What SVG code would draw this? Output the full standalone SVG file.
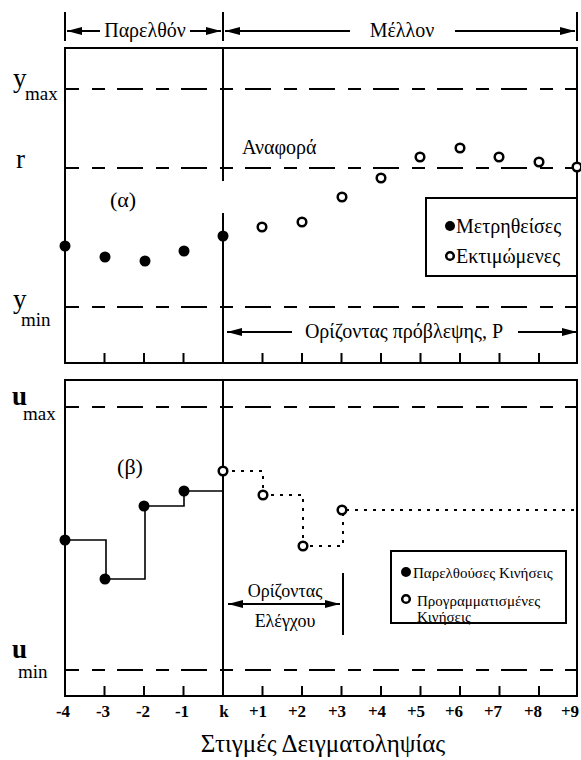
<svg xmlns="http://www.w3.org/2000/svg" width="581" height="760" viewBox="0 0 581 760" font-family="'Liberation Serif', 'Times New Roman', serif">
  <style>
    text { font-family: "Liberation Serif", "Times New Roman", serif; fill: #000; }
    .frame { fill: none; stroke: #000; stroke-width: 2; }
    .axis { fill: none; stroke: #000; stroke-width: 2; }
    .tick { stroke: #000; stroke-width: 2; }
    .limit { fill: none; stroke: #000; stroke-width: 2; stroke-dasharray: 13 12 26 13; stroke-dashoffset: 37; }
    .guide { fill: none; stroke: #000; stroke-width: 2; marker-end: url(#head); }
    .past { fill: #000; }
    .plan { fill: #fff; stroke: #000; stroke-width: 2.5; }
    .step { fill: none; stroke: #000; stroke-width: 1.6; }
    .planned { fill: none; stroke: #000; stroke-width: 2; stroke-dasharray: 3 6; }
    .lbl { font-size: 20px; }
    .num { font-size: 17px; font-weight: bold; text-anchor: middle; }
    .big { font-size: 27px; }
    .sub { font-size: 19px; }
  </style>
  <defs>
    <marker id="head" viewBox="0 0 15 8" refX="15" refY="4" markerWidth="15" markerHeight="8" markerUnits="userSpaceOnUse" orient="auto">
      <path d="M0,0 L15,4 L0,8 Z" fill="#000"/>
    </marker>
  </defs>

  <!-- time span header: past / future -->
  <g id="header">
    <line class="tick" x1="65" y1="12" x2="65" y2="41"/>
    <line class="tick" x1="223" y1="12" x2="223" y2="41"/>
    <line class="tick" x1="577" y1="12" x2="577" y2="41"/>
    <line class="guide" x1="100" y1="31" x2="67" y2="31"/>
    <line class="guide" x1="190" y1="31" x2="221" y2="31"/>
    <text class="lbl" x="145" y="37" text-anchor="middle">Παρελθόν</text>
    <line class="guide" x1="350" y1="31" x2="225" y2="31"/>
    <line class="guide" x1="455" y1="31" x2="575" y2="31"/>
    <text class="lbl" x="402" y="37" text-anchor="middle">Μέλλον</text>
  </g>

  <!-- (α) outputs panel -->
  <g id="panel-outputs">
    <path class="frame" d="M65,363 V48 H577 V363 Z"/>
    <path class="axis" d="M223,48 V181 M223,213 V363"/>
    <g class="tick">
      <line x1="104.5" y1="353" x2="104.5" y2="363"/>
      <line x1="144" y1="353" x2="144" y2="363"/>
      <line x1="183.5" y1="353" x2="183.5" y2="363"/>
      <line x1="262.5" y1="353" x2="262.5" y2="363"/>
      <line x1="302" y1="353" x2="302" y2="363"/>
      <line x1="341.5" y1="353" x2="341.5" y2="363"/>
      <line x1="381" y1="353" x2="381" y2="363"/>
      <line x1="420.5" y1="353" x2="420.5" y2="363"/>
      <line x1="460" y1="353" x2="460" y2="363"/>
      <line x1="499.5" y1="353" x2="499.5" y2="363"/>
      <line x1="539" y1="353" x2="539" y2="363"/>
    </g>
    <line class="limit" x1="65" y1="89" x2="577" y2="89"/>
    <line class="limit" x1="65" y1="168" x2="577" y2="168"/>
    <line class="limit" x1="65" y1="307" x2="577" y2="307"/>
    <text class="big" x="13" y="87">y</text><text class="sub" x="25" y="100">max</text>
    <text class="big" x="16" y="168">r</text>
    <text class="big" x="13" y="308">y</text><text class="sub" x="21" y="326">min</text>
    <text class="lbl" x="242" y="154">Αναφορά</text>
    <text x="123" y="207" font-size="22" text-anchor="middle">(α)</text>
  </g>

  <g id="measured-outputs">
    <circle class="past" cx="65" cy="246" r="5.5"/>
    <circle class="past" cx="105" cy="257" r="5.5"/>
    <circle class="past" cx="145" cy="261" r="5.5"/>
    <circle class="past" cx="184" cy="251" r="5.5"/>
    <circle class="past" cx="223" cy="236" r="5.5"/>
  </g>

  <g id="predicted-outputs">
    <circle class="plan" cx="262" cy="227" r="4.3"/>
    <circle class="plan" cx="302" cy="222" r="4.3"/>
    <circle class="plan" cx="342" cy="197" r="4.3"/>
    <circle class="plan" cx="381" cy="178" r="4.3"/>
    <circle class="plan" cx="420" cy="157" r="4.3"/>
    <circle class="plan" cx="460" cy="148" r="4.3"/>
    <circle class="plan" cx="499" cy="157" r="4.3"/>
    <circle class="plan" cx="539" cy="162" r="4.3"/>
    <circle class="plan" cx="577" cy="167" r="4.3"/>
  </g>

  <g id="legend-outputs">
    <rect class="frame" x="426" y="198" width="151" height="78"/>
    <circle class="past" cx="450" cy="226" r="5"/>
    <text class="lbl" x="456" y="233">Μετρηθείσες</text>
    <circle class="plan" cx="450" cy="256" r="3.8" stroke-width="2"/>
    <text class="lbl" x="456" y="263">Εκτιμώμενες</text>
  </g>

  <g id="prediction-horizon">
    <line class="guide" x1="292" y1="332" x2="227" y2="332"/>
    <line class="guide" x1="518" y1="332" x2="577" y2="332"/>
    <text class="lbl" x="404" y="338" text-anchor="middle">Ορίζοντας πρόβλεψης, P</text>
  </g>

  <!-- (β) inputs panel -->
  <g id="panel-inputs">
    <path class="frame" d="M65,696 V380 H577 V696 Z"/>
    <line class="axis" x1="223" y1="380" x2="223" y2="696"/>
    <g class="tick">
      <line x1="104.5" y1="686" x2="104.5" y2="696"/>
      <line x1="144" y1="686" x2="144" y2="696"/>
      <line x1="183.5" y1="686" x2="183.5" y2="696"/>
      <line x1="262.5" y1="686" x2="262.5" y2="696"/>
      <line x1="302" y1="686" x2="302" y2="696"/>
      <line x1="341.5" y1="686" x2="341.5" y2="696"/>
      <line x1="381" y1="686" x2="381" y2="696"/>
      <line x1="420.5" y1="686" x2="420.5" y2="696"/>
      <line x1="460" y1="686" x2="460" y2="696"/>
      <line x1="499.5" y1="686" x2="499.5" y2="696"/>
      <line x1="539" y1="686" x2="539" y2="696"/>
    </g>
    <line class="limit" x1="65" y1="407" x2="577" y2="407"/>
    <line class="limit" x1="65" y1="670" x2="577" y2="670"/>
    <text class="big" x="12" y="405" font-weight="bold" font-size="24">u</text><text class="sub" x="23" y="420">max</text>
    <text class="big" x="12" y="658" font-weight="bold" font-size="24">u</text><text class="sub" x="18" y="678">min</text>
    <text x="130" y="474" font-size="22" text-anchor="middle">(β)</text>
  </g>

  <g id="past-moves">
    <path class="step" d="M65,540 H106 V579 H145 V506 H184 V491 H223"/>
    <circle class="past" cx="65" cy="540" r="5.5"/>
    <circle class="past" cx="105" cy="579" r="5.5"/>
    <circle class="past" cx="144" cy="506" r="5.5"/>
    <circle class="past" cx="184" cy="491" r="5.5"/>
  </g>

  <g id="planned-moves">
    <path class="planned" d="M223,471 H263 V495 H303 V546 H343 V510 H577"/>
    <circle class="plan" cx="223" cy="471" r="4.3"/>
    <circle class="plan" cx="263" cy="495" r="4.3"/>
    <circle class="plan" cx="303" cy="546" r="4.3"/>
    <circle class="plan" cx="342" cy="510" r="4.3"/>
  </g>

  <g id="control-horizon">
    <line class="guide" x1="285" y1="604" x2="228" y2="604"/>
    <line class="guide" x1="285" y1="604" x2="340" y2="604"/>
    <line class="tick" x1="343" y1="573" x2="343" y2="635" stroke-width="1.6"/>
    <text x="285" y="597" font-size="18" text-anchor="middle">Ορίζοντας</text>
    <text x="285" y="627" font-size="18" text-anchor="middle">Ελέγχου</text>
  </g>

  <g id="legend-inputs">
    <rect class="frame" x="391" y="551" width="175" height="72"/>
    <circle class="past" cx="406" cy="572" r="5"/>
    <text x="413" y="578" font-size="15">Παρελθούσες Κινήσεις</text>
    <circle class="plan" cx="406" cy="599" r="3.8" stroke-width="2"/>
    <text x="417" y="606" font-size="15">Προγραμματισμένες</text>
    <text x="417" y="622" font-size="15">Κινήσεις</text>
  </g>

  <!-- sampling instants -->
  <g id="time-axis">
    <text class="num" x="63" y="717">-4</text>
    <text class="num" x="103" y="717">-3</text>
    <text class="num" x="143" y="717">-2</text>
    <text class="num" x="182" y="717">-1</text>
    <text class="num" x="224" y="717">k</text>
    <text class="num" x="258" y="717">+1</text>
    <text class="num" x="297" y="717">+2</text>
    <text class="num" x="337" y="717">+3</text>
    <text class="num" x="377" y="717">+4</text>
    <text class="num" x="416" y="717">+5</text>
    <text class="num" x="454" y="717">+6</text>
    <text class="num" x="493" y="717">+7</text>
    <text class="num" x="533" y="717">+8</text>
    <text class="num" x="570" y="717">+9</text>
    <text x="323" y="752" font-size="25" text-anchor="middle">Στιγμές Δειγματοληψίας</text>
  </g>
</svg>
